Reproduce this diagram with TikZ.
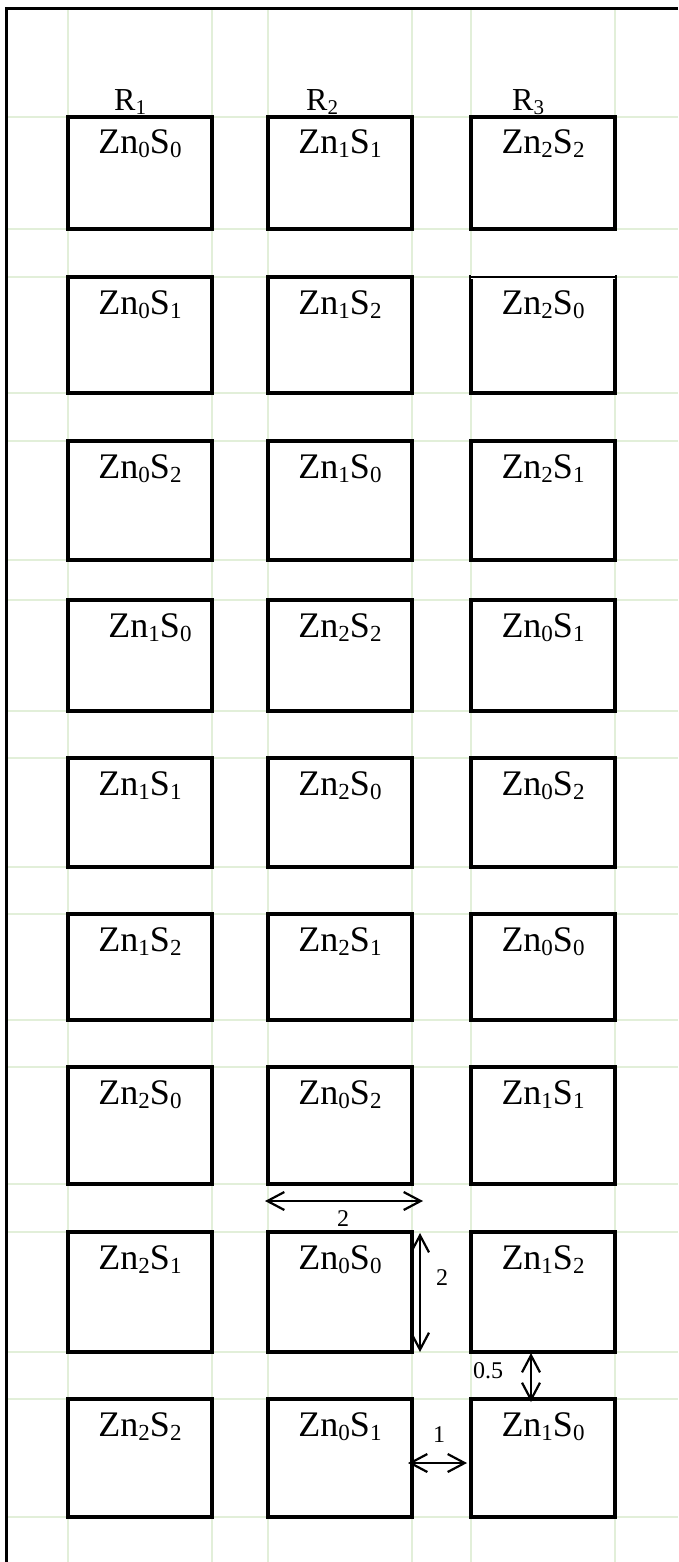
\documentclass[tikz,border=0pt]{standalone}
\usepackage{fontspec}
\setmainfont{Liberation Serif}
\usetikzlibrary{arrows.meta}
\definecolor{gridgreen}{HTML}{E2EFD9}
\newcommand\zsub[1]{\raisebox{-4pt}{\fontsize{23}{23}\selectfont #1}}
\newcommand\rsub[1]{\raisebox{-3.5pt}{\fontsize{21}{21}\selectfont #1}}
\newcommand\zn[2]{Zn\zsub{#1}S\zsub{#2}}
\tikzset{
  zbox/.style={draw=black, line width=3.2pt, inner sep=0pt, outer sep=0pt, minimum width=144pt, anchor=north west},
  ztext/.style={inner sep=0pt, anchor=base, font=\fontsize{36}{42}\selectfont},
  rlabel/.style={inner sep=0pt, anchor=base west, font=\fontsize{32}{36}\selectfont},
  dimlabel/.style={inner sep=0pt, font=\fontsize{24}{28}\selectfont},
  dimarrow/.style={line width=2.2pt, {Straight Barb[length=17pt,width=18pt,line width=2.2pt]}-{Straight Barb[length=17pt,width=18pt,line width=2.2pt]}},
  gridline/.style={draw=gridgreen, line width=2.2pt},
}
% #1 name, #2 left x, #3 top, #4 bottom, #5 text, #6 x shift of text
\newcommand\cell[6]{%
  \node[zbox, minimum height={#4pt-#3pt}] (#1) at (#2,#3) {};
  \node[ztext, xshift=#6pt, yshift=-37pt] (t#1) at (#1.north) {#5};
}
\begin{document}
\begin{tikzpicture}[x=1pt,y=-1pt]
\useasboundingbox (0,0) rectangle (678,1562);
\fill[white] (0,0) rectangle (678,1562);
% light green grid
\foreach \yy in {117,229,277,393,441,560,600,711,758,867,914,1020,1067,1184,1232,1352,1399,1517}
  \draw[gridline] (6,\yy) -- (678,\yy);
\foreach \xx in {68,212,268,412,471,615}
  \draw[gridline] (\xx,9) -- (\xx,1562);
% white patch (as in the original)
\fill[white] (473,231) rectangle (678,275.5);
% row 1
\cell{b11}{68}{117}{229}{\zn00}{0}
\cell{b12}{268}{117}{229}{\zn11}{0}
\cell{b13}{471}{117}{229}{\zn22}{0}
% row 2
\cell{b21}{68}{277}{393}{\zn01}{0}
\cell{b22}{268}{277}{393}{\zn12}{0}
\cell{b23}{471}{277}{393}{\zn20}{0}
% row 3
\cell{b31}{68}{441}{560}{\zn02}{0}
\cell{b32}{268}{441}{560}{\zn10}{0}
\cell{b33}{471}{441}{560}{\zn21}{0}
% row 4
\cell{b41}{68}{600}{711}{\zn10}{10}
\cell{b42}{268}{600}{711}{\zn22}{0}
\cell{b43}{471}{600}{711}{\zn01}{0}
% row 5
\cell{b51}{68}{758}{867}{\zn11}{0}
\cell{b52}{268}{758}{867}{\zn20}{0}
\cell{b53}{471}{758}{867}{\zn02}{0}
% row 6
\cell{b61}{68}{914}{1020}{\zn12}{0}
\cell{b62}{268}{914}{1020}{\zn21}{0}
\cell{b63}{471}{914}{1020}{\zn00}{0}
% row 7
\cell{b71}{68}{1067}{1184}{\zn20}{0}
\cell{b72}{268}{1067}{1184}{\zn02}{0}
\cell{b73}{471}{1067}{1184}{\zn11}{0}
% row 8
\cell{b81}{68}{1232}{1352}{\zn21}{0}
\cell{b82}{268}{1232}{1352}{\zn00}{0}
\cell{b83}{471}{1232}{1352}{\zn12}{0}
% row 9
\cell{b91}{68}{1399}{1517}{\zn22}{0}
\cell{b92}{268}{1399}{1517}{\zn01}{0}
\cell{b93}{471}{1399}{1517}{\zn10}{0}
% thinner top edge of one box, as in the original
\draw[white, line width=3.4pt] (b23.north west) -- (b23.north east);
\draw[black, line width=1.6pt] ([xshift=-1.6pt]b23.north west) -- ([xshift=1.6pt]b23.north east);
% column labels
\node[rlabel] (r1) at (114,111) {R\rsub{1}};
\node[rlabel] (r2) at (306,111) {R\rsub{2}};
\node[rlabel] (r3) at (512,111) {R\rsub{3}};
% dimension arrows
\coordinate (h2a) at (265,1201);
\coordinate (h2b) at (423,1201);
\draw[dimarrow] (h2a) -- (h2b);
\node[dimlabel] (l2h) at (343,1219) {2};
\coordinate (v2a) at (420,1233);
\coordinate (v2b) at (420,1352);
\draw[dimarrow] (v2a) -- (v2b);
\node[dimlabel] (l2v) at (442,1278) {2};
\coordinate (v5a) at (531,1353);
\coordinate (v5b) at (531,1402);
\draw[dimarrow] (v5a) -- (v5b);
\node[dimlabel, anchor=west] (l05) at (473,1371) {0.5};
\coordinate (h1a) at (408,1463);
\coordinate (h1b) at (467,1463);
\draw[dimarrow] (h1a) -- (h1b);
\node[dimlabel] (l1) at (439,1435) {1};
% outer frame
\draw[line width=3pt] (6,1562) -- (6,9) -- (678,9);
\end{tikzpicture}
\end{document}
